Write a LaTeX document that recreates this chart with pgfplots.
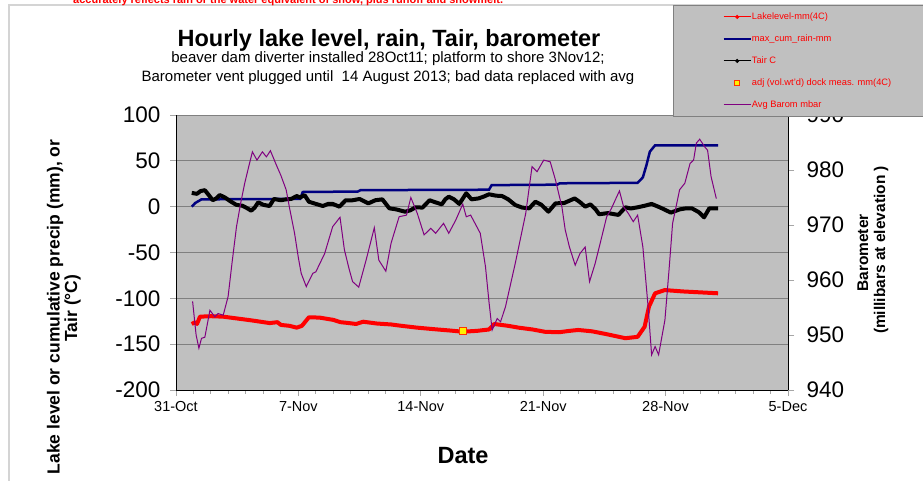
\documentclass[border=0pt]{standalone}
\usepackage{pgfplots}
\pgfplotsset{compat=1.18}
\usepackage{fontspec}
\setmainfont{Liberation Sans}
\definecolor{plotgray}{HTML}{C0C0C0}
\definecolor{gridgray}{HTML}{808080}
\definecolor{navyb}{HTML}{000080}
\definecolor{purp}{HTML}{800080}
\definecolor{bordgray}{HTML}{D4D4D4}
\begin{document}
\begin{tikzpicture}[x=1pt,y=1pt]
\fill[white] (0,0) rectangle (923,-481);
\draw[bordgray, line width=1.5pt] (9,-495) -- (9,-5) -- (935,-5);
\node[anchor=base west, text=red, font=\bfseries\fontsize{11}{13}\selectfont, inner sep=0pt] at (73,-3.5) {accurately reflects rain or the water equivalent of snow, plus runoff and snowmelt.};
\node[anchor=base, font=\bfseries\fontsize{23.5}{26}\selectfont, inner sep=0pt] at (389,-47) {Hourly lake level, rain, Tair, barometer};
\node[anchor=base, font=\fontsize{15}{17}\selectfont, inner sep=0pt] at (388,-63) {beaver dam diverter installed 28Oct11; platform to shore 3Nov12;};
\node[anchor=base, font=\fontsize{15}{17}\selectfont, inner sep=0pt] at (388,-81.5) {Barometer vent plugged until\ \ 14 August 2013; bad data replaced with avg};
\node[anchor=base, rotate=90, font=\bfseries\fontsize{17.5}{20}\selectfont, inner sep=0pt] at (59.5,-307) {Lake level or cumulative precip (mm), or};
\node[anchor=base, rotate=90, font=\bfseries\fontsize{17.5}{20}\selectfont, inner sep=0pt] at (77,-308) {Tair (°C)};
\node[anchor=base, rotate=90, font=\bfseries\fontsize{15.5}{18}\selectfont, inner sep=0pt] at (868,-253) {Barometer};
\node[anchor=base, rotate=90, font=\bfseries\fontsize{15.5}{18}\selectfont, inner sep=0pt] at (885,-250) {(millibars at elevation )};
\node[anchor=base, font=\bfseries\fontsize{23.5}{26}\selectfont, inner sep=0pt] at (463,-463) {Date};

\begin{axis}[
  at={(176pt,-390pt)}, anchor=south west,
  scale only axis, width=612pt, height=275pt,
  xmin=0, xmax=35, ymin=-200, ymax=100,
  axis x line*=bottom, axis y line*=left,
  axis line style={black, line width=1pt},
  axis background/.style={fill=plotgray},
  xtick={0,7,14,21,28,35},
  xticklabels={31-Oct,7-Nov,14-Nov,21-Nov,28-Nov,5-Dec},
  minor xtick={1,...,34},
  ytick={-200,-150,...,100},
  ymajorgrids, major grid style={gridgray, line width=1pt},
  tick align=outside, major tick length=6pt, minor tick length=3.5pt,
  every tick/.style={gridgray!70, line width=1pt},
  /pgf/number format/assume math mode=true,
  yticklabel style={font=\fontsize{22.5}{24}\selectfont, xshift=-6pt},
  xticklabel style={font=\fontsize{14.5}{16}\selectfont, yshift=-2pt},
]
\addplot[navyb, line width=2.5pt] coordinates {
(0.9,0) (1.1,4) (1.46,8) (7.1,8.5) (7.25,16) (10.4,16.5) (10.55,18) (17.9,18.5) (18.05,23.5) (21.8,24) (21.95,25.5) (26.4,26) (26.7,32) (26.9,45) (27.1,60) (27.4,67) (31,67)
};
\addplot[red, line width=4pt, line join=round] coordinates {
(0.9,-128) (1.1,-126) (1.2,-128) (1.37,-120) (2.0,-119.5) (2.7,-120) (3.5,-122) (4.3,-124) (5.36,-127) (5.8,-126) (6.0,-129) (6.5,-130) (6.9,-132) (7.2,-130) (7.6,-120.7) (8.2,-121) (9.0,-123.5) (9.4,-126) (9.9,-127) (10.3,-128) (10.7,-125.5) (11.5,-127.5) (12.3,-128.5) (12.9,-130) (13.8,-132) (14.85,-133.8) (15.6,-135) (16.4,-136.4) (17.2,-135.5) (17.9,-134) (18.2,-128) (19.0,-130) (19.6,-132) (20.4,-134) (21.1,-136.5) (21.9,-137) (22.5,-135.5) (23.0,-134.5) (23.8,-136) (24.6,-139) (25.7,-143.5) (26.4,-142) (26.8,-131) (27.05,-109) (27.4,-94.5) (27.95,-91) (29,-92.5) (30,-93.5) (31,-94.5)
};
\addplot[black, line width=4pt, line join=round] coordinates {
(0.9,15) (1.2,14) (1.4,17) (1.65,18) (1.9,12) (2.1,7) (2.3,9) (2.5,12.7) (2.8,10) (3.1,6) (3.45,2) (3.8,1) (4.1,-2) (4.3,-4.4) (4.5,-1) (4.7,4.7) (5.0,2) (5.35,0.7) (5.6,8.4) (6.0,7) (6.3,8) (6.6,8.5) (6.9,11.6) (7.1,10) (7.35,12.7) (7.6,5.4) (8.0,3) (8.4,0.7) (8.7,3) (8.96,3) (9.35,0) (9.7,7) (10.1,7) (10.5,8.4) (11.0,3.6) (11.4,7) (11.8,8) (12.2,-1.8) (12.6,-3) (13.1,-5.5) (13.4,-4) (13.7,-0.7) (14.1,-1) (14.5,7) (14.8,5) (15.2,2.5) (15.4,8) (15.6,10.9) (15.9,8) (16.2,3) (16.6,14.6) (16.9,8) (17.3,9) (17.6,11) (17.9,13.5) (18.3,12) (18.65,11.6) (19.0,8) (19.4,1.8) (19.8,-1) (20.2,-1.8) (20.55,5.4) (20.9,2) (21.3,-5.5) (21.7,3.6) (22.2,4) (22.8,9) (23.1,5) (23.4,0) (23.7,2.5) (24.0,-3) (24.2,-8.3) (24.7,-7) (25.3,-9) (25.7,-0.7) (26.0,-2) (26.4,-0.7) (26.8,1) (27.2,3) (27.7,-1) (28.3,-6.5) (28.8,-3) (29.1,-2) (29.5,-1.8) (29.9,-6) (30.2,-11.6) (30.5,-1.8) (31,-1.8)
};
\addplot[only marks, mark=square*, mark size=3.5pt, mark options={fill=yellow, draw=red!80!yellow, line width=0.8pt}] coordinates {(16.4,-136)};
\end{axis}

\begin{axis}[
  at={(176pt,-390pt)}, anchor=south west,
  scale only axis, width=612pt, height=275pt,
  xmin=0, xmax=35, ymin=940, ymax=990,
  axis y line*=right, axis x line=none,
  axis line style={black, line width=1pt},
  ytick={940,950,...,990},
  tick align=outside, major tick length=6pt,
  every tick/.style={gridgray!70, line width=1pt},
  /pgf/number format/assume math mode=true,
  yticklabel style={font=\fontsize{22.5}{24}\selectfont, xshift=9pt},
  legend image code/.code={\draw[mark repeat=2,mark phase=2] plot coordinates {(0pt,0pt) (13.5pt,0pt) (27pt,0pt)};},
  legend cell align=left,
  legend style={at={(0.8121,1.4)}, anchor=north west, fill=plotgray, draw=gridgray, line width=0.8pt,
    font=\fontsize{9.3}{11}\selectfont, text=red, inner xsep=49pt, inner ysep=7pt,
    row sep=13pt, nodes={inner sep=0pt, text height=7pt, text depth=2pt},
    /tikz/every even column/.append style={column sep=1.5pt}},
]
\addlegendimage{red, line width=1pt, mark=*, mark size=1.5pt}
\addlegendentry{Lakelevel-mm(4C)}
\addlegendimage{navyb, line width=2.5pt}
\addlegendentry{max\_cum\_rain-mm}
\addlegendimage{black, line width=1pt, mark=*, mark size=1.5pt}
\addlegendentry{Tair C}
\addlegendimage{only marks, mark=square*, mark size=2.5pt, mark options={fill=yellow, draw=red!80!yellow, line width=0.8pt}}
\addlegendentry{adj (vol.wt'd) dock meas. mm(4C)}
\addplot[purp, line width=1pt] coordinates {
(0.95,956.1) (1.15,950) (1.31,947.6) (1.46,949.4) (1.65,949.6) (1.94,954.5) (2.22,953.3) (2.41,953.9) (2.7,953.6) (2.98,957) (3.2,963) (3.46,969.7) (3.7,974) (3.93,977.6) (4.15,980.5) (4.37,983.3) (4.63,981.8) (4.94,983.3) (5.17,982.4) (5.4,983.5) (5.74,980.9) (6.0,979) (6.3,976.4) (6.5,973) (6.78,968.5) (7.0,964) (7.16,961.2) (7.45,958.8) (7.82,961.2) (8.0,961.5) (8.5,964.8) (8.96,969.7) (9.38,971.4) (9.63,965.5) (9.9,962) (10.1,959.7) (10.45,958.7) (10.87,963.6) (11.34,969.5) (11.6,963.6) (12.0,961.6) (12.3,966.7) (12.76,971.5) (13.18,971.8) (13.43,975) (13.8,972.1) (14.19,968.2) (14.57,969.4) (14.85,968.5) (15.3,970.3) (15.6,968.5) (16.0,970.9) (16.4,973.8) (16.6,971.5) (16.85,971.8) (17.4,968.5) (17.7,962.4) (17.9,956) (18.08,950.9) (18.37,953) (18.56,952.4) (18.84,955.1) (19.4,963) (20.0,972.1) (20.36,980.6) (20.65,979.7) (21.03,981.8) (21.4,981.5) (21.7,978.2) (22.07,973.3) (22.26,969.1) (22.5,966) (22.83,962.7) (23.1,964.8) (23.4,966) (23.65,959.7) (23.97,963) (24.26,966.7) (24.63,971.5) (24.9,973) (25.2,975.1) (25.36,976.2) (25.6,973.3) (25.87,972.1) (26.15,970.6) (26.4,971.8) (26.7,966) (27.0,955.1) (27.2,946.4) (27.4,947.9) (27.6,946.4) (27.96,952.7) (28.2,962) (28.4,970.3) (28.8,976.4) (29.1,977.6) (29.4,981.2) (29.6,981.8) (29.76,984.9) (29.95,985.6) (30.24,984.2) (30.4,983.6) (30.6,978.8) (30.9,974.8)
};
\addlegendentry{Avg Barom mbar}
\end{axis}
\pgfresetboundingbox
\path[use as bounding box] (0,0) rectangle (923,-481);
\end{tikzpicture}
\end{document}
